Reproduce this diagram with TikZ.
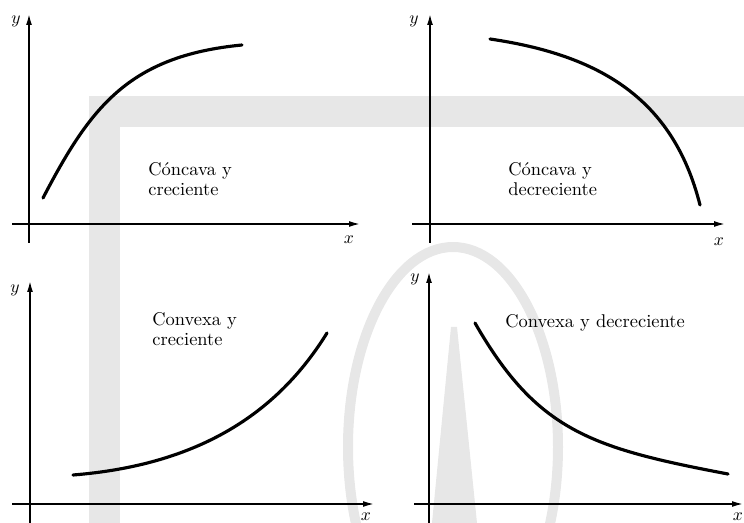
\documentclass[tikz,border=0pt]{standalone}
\usepackage{tikz}
\usetikzlibrary{arrows.meta}

\definecolor{markgray}{RGB}{231,231,231}

\begin{document}
\begin{tikzpicture}[
  x=0.02cm, y=-0.02cm,
  axis/.style={-{Latex[length=2.2mm,width=1.2mm]}, line width=0.9pt},
  curve/.style={line width=1.8pt, line cap=round},
  lbl/.style={font=\fontsize{10.5}{11.5}\selectfont, align=left, anchor=north west, inner sep=0pt},
  var/.style={inner sep=0pt},
]
\useasboundingbox (0,0) rectangle (744,523);

% Watermark behind
\begin{scope}
\clip (0,0) rectangle (744,523);
\fill[markgray] (89,96) rectangle (744,127);
\fill[markgray] (89,127) rectangle (120,523);
\draw[markgray, line width=2mm] (453,447) ellipse [x radius=105, y radius=200];
\fill[markgray] (451,327) -- (457,327) -- (477,523) -- (432,523) -- cycle;
\end{scope}

% Top left
\coordinate (o1x) at (12,224);
\coordinate (e1x) at (360,224);
\coordinate (o1y) at (29,243);
\coordinate (e1y) at (29,14);
\draw[axis] (o1x) -- (e1x);
\draw[axis] (o1y) -- (e1y);
\node[var] (y1) at (16,21) {$y$};
\node[var] (x1) at (349,240) {$x$};
\draw[curve] (43,198) .. controls (90,108) and (128,56) .. (242,45);
\node[lbl] (t1) at (148,162) {Cóncava y\\creciente};

% Top right
\coordinate (o2x) at (412,224);
\coordinate (e2x) at (725,224);
\coordinate (o2y) at (430,243);
\coordinate (e2y) at (430,14);
\draw[axis] (o2x) -- (e2x);
\draw[axis] (o2y) -- (e2y);
\node[var] (y2) at (414,21) {$y$};
\node[var] (x2) at (719,242) {$x$};
\draw[curve] (490,39) .. controls (599,55) and (673,98) .. (700,205);
\node[lbl] (t2) at (508,162) {Cóncava y\\decreciente};

% Bottom left
\coordinate (o3x) at (12,504);
\coordinate (e3x) at (374,504);
\coordinate (o3y) at (30,523);
\coordinate (e3y) at (30,281);
\draw[axis] (o3x) -- (e3x);
\draw[axis] (o3y) -- (e3y);
\node[var] (y3) at (15,290) {$y$};
\node[var] (x3) at (366,517) {$x$};
\draw[curve] (73,475) .. controls (198,465) and (277,414) .. (327,333);
\node[lbl] (t3) at (152,312) {Convexa y\\creciente};

% Bottom right
\coordinate (o4x) at (414,504);
\coordinate (e4x) at (743,504);
\coordinate (o4y) at (429,523);
\coordinate (e4y) at (429,272);
\draw[axis] (o4x) -- (e4x);
\draw[axis] (o4y) -- (e4y);
\node[var] (y4) at (415,279) {$y$};
\node[var] (x4) at (738,517) {$x$};
\draw[curve] (475,323) .. controls (537,431) and (591,448) .. (728,474);
\node[lbl] (t4) at (505,314) {Convexa y decreciente};

\end{tikzpicture}
\end{document}
